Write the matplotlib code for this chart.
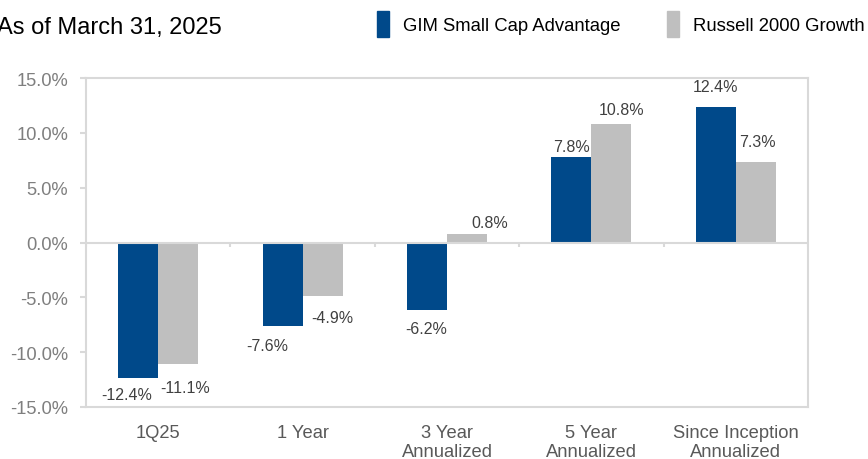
import numpy as np
import matplotlib.pyplot as plt
from matplotlib.patches import Patch

plt.rcParams['font.family'] = ['Liberation Sans', 'DejaVu Sans']

categories = ['1Q25', '1 Year', '3 Year\nAnnualized', '5 Year\nAnnualized', 'Since Inception\nAnnualized']
gim = [-12.4, -7.6, -6.2, 7.8, 12.4]
russell = [-11.1, -4.9, 0.8, 10.8, 7.3]
series_names = ['GIM Small Cap Advantage', 'Russell 2000 Growth']

blue = '#00498A'
gray = '#BFBFBF'
frame = '#D9D9D9'

# label nudges in pixels (dx, dy), mimicking the hand-placed labels
gim_off = [(-12, -16), (-15, -20), (-1, -18), (0, 10), (0, 20)]
rus_off = [(7, -23), (10, -21), (23, 11), (10, 15), (2, 21)]

fig = plt.figure(figsize=(8.68, 4.6), dpi=100)
ax = fig.add_axes([86 / 868, 1 - 408 / 460, 722 / 868, 329 / 460])

x = np.arange(len(categories))
w = 0.277
b1 = ax.bar(x - w / 2, gim, w, color=blue)
b2 = ax.bar(x + w / 2, russell, w, color=gray)

for bars, vals, offs in [(b1, gim, gim_off), (b2, russell, rus_off)]:
    for bar, v, (dx, dy) in zip(bars, vals, offs):
        ax.annotate(f'{v:.1f}%', (bar.get_x() + bar.get_width() / 2, v),
                    xytext=(dx, dy), textcoords='offset pixels',
                    ha='center', va='center', fontsize=11.5, color='#404040')

ax.set_xlim(-0.5, len(categories) - 0.5)
ax.set_ylim(-15, 15)
ax.set_yticks(np.arange(-15, 16, 5))
ax.set_yticklabels([f'{t:.1f}%' for t in np.arange(-15, 16, 5)])
ax.set_xticks(x)
ax.set_xticklabels(categories, linespacing=1.15)

ax.axhline(0, color=frame, lw=1.5, zorder=1)
ax.vlines(np.arange(len(categories) + 1) - 0.5, -0.45, 0, color=frame, lw=1.5, zorder=1)

for s in ax.spines.values():
    s.set_color(frame)
    s.set_linewidth(1.5)

ax.tick_params(axis='y', length=4.3, width=1.5, color=frame, pad=8.6,
               labelsize=13.2, labelcolor='#7F7F7F')
ax.tick_params(axis='x', length=0, pad=12, labelsize=13.2, labelcolor='#595959')

fig.text(-3 / 868, 1 - 28 / 460, 'As of March 31, 2025', fontsize=17,
         ha='left', va='center', color='black')

handles = [Patch(color=blue), Patch(color=gray)]
fig.legend(handles, series_names, loc='center left',
           bbox_to_anchor=(377 / 868, 1 - 25 / 460), ncol=2, frameon=False,
           fontsize=13.3, handlelength=0.65, handleheight=1.75,
           handletextpad=0.76, columnspacing=2.5, borderpad=0, borderaxespad=0)

fig.savefig('out.png', dpi=100)
